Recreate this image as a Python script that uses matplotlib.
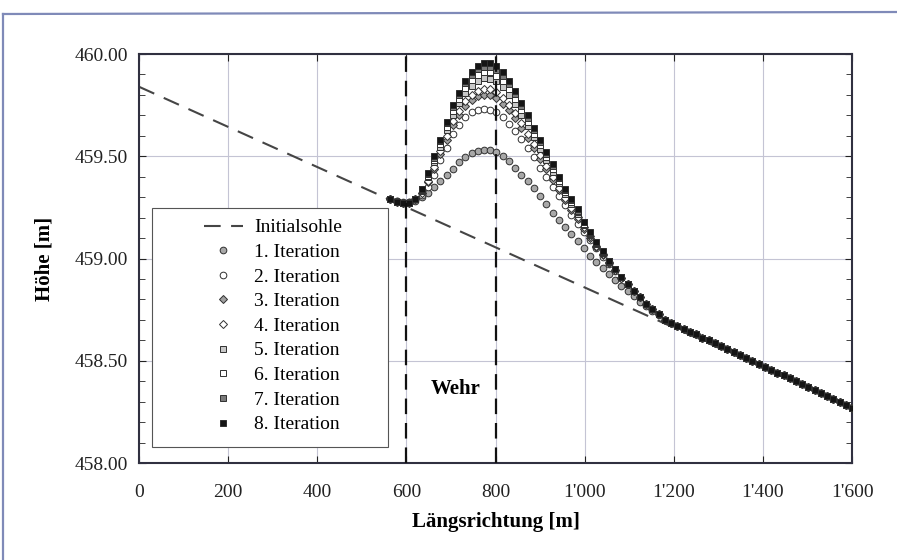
import numpy as np
import matplotlib
matplotlib.use("Agg")
import matplotlib.pyplot as plt
from matplotlib.ticker import FuncFormatter, MultipleLocator
from matplotlib.lines import Line2D
from matplotlib.patches import Rectangle

plt.rcParams['font.family'] = ['Liberation Serif', 'DejaVu Serif']

# stations [m]
x_st = [564, 578, 592, 606, 620, 634, 648, 662, 676, 690, 704, 718, 732, 746, 760,
        774, 788, 802, 816, 830, 844, 858, 872, 886, 900, 914, 928, 942, 956, 970,
        984, 998, 1012, 1026, 1040, 1054, 1068, 1082, 1096, 1110, 1124, 1138, 1152, 1166,
        1180, 1194, 1208, 1222, 1236, 1250, 1264, 1278, 1292, 1306, 1320, 1334, 1348,
        1362, 1376, 1390, 1404, 1418, 1432, 1446, 1460, 1474, 1488, 1502, 1516, 1530,
        1544, 1558, 1572, 1586, 1600]

# downstream part, the same for all iterations
tail = [458.700, 458.686, 458.671, 458.657, 458.643, 458.629, 458.614, 458.600, 458.586,
        458.571, 458.557, 458.543, 458.529, 458.514, 458.500, 458.486, 458.471, 458.457,
        458.443, 458.429, 458.414, 458.400, 458.386, 458.371, 458.357, 458.343, 458.329,
        458.314, 458.300, 458.286, 458.271]

it1 = [459.29, 459.28, 459.275, 459.275, 459.28, 459.30, 459.32, 459.35, 459.38, 459.41,
       459.44, 459.47, 459.495, 459.515, 459.527, 459.532, 459.53, 459.52, 459.50, 459.475,
       459.445, 459.41, 459.38, 459.345, 459.305, 459.265, 459.225, 459.19, 459.155, 459.12,
       459.085, 459.05, 459.015, 458.985, 458.955, 458.925, 458.895, 458.865, 458.84, 458.815,
       458.79, 458.77, 458.745, 458.725]
it2 = [459.29, 459.28, 459.27, 459.275, 459.29, 459.31, 459.35, 459.41, 459.48, 459.54,
       459.61, 459.655, 459.69, 459.715, 459.728, 459.732, 459.728, 459.715, 459.69, 459.66,
       459.625, 459.585, 459.54, 459.495, 459.445, 459.40, 459.35, 459.305, 459.26, 459.215,
       459.17, 459.13, 459.09, 459.05, 459.01, 458.975, 458.94, 458.905, 458.875, 458.84,
       458.81, 458.78, 458.755, 458.73]
it3 = [459.29, 459.278, 459.27, 459.273, 459.29, 459.319, 459.372, 459.438, 459.511, 459.580,
       459.653, 459.703, 459.746, 459.775, 459.794, 459.801, 459.798, 459.785, 459.758, 459.725,
       459.685, 459.639, 459.590, 459.540, 459.487, 459.437, 459.384, 459.334, 459.285, 459.238,
       459.192, 459.146, 459.102, 459.059, 459.018, 458.980, 458.943, 458.907, 458.875, 458.84,
       458.81, 458.78, 458.755, 458.73]
it4 = [459.29, 459.278, 459.27, 459.273, 459.29, 459.323, 459.381, 459.450, 459.524, 459.597,
       459.672, 459.723, 459.769, 459.801, 459.821, 459.830, 459.828, 459.814, 459.787, 459.752,
       459.711, 459.662, 459.610, 459.559, 459.504, 459.453, 459.398, 459.347, 459.295, 459.248,
       459.201, 459.152, 459.108, 459.063, 459.021, 458.982, 458.944, 458.907, 458.875, 458.84,
       458.81, 458.78, 458.755, 458.73]
it5 = [459.29, 459.277, 459.27, 459.272, 459.29, 459.330, 459.397, 459.470, 459.547, 459.627,
       459.704, 459.759, 459.811, 459.846, 459.870, 459.881, 459.880, 459.866, 459.837, 459.801,
       459.756, 459.702, 459.647, 459.592, 459.535, 459.480, 459.424, 459.369, 459.314, 459.265,
       459.217, 459.164, 459.117, 459.070, 459.027, 458.985, 458.947, 458.908, 458.875, 458.84,
       458.81, 458.78, 458.755, 458.73]
it6 = [459.29, 459.276, 459.27, 459.271, 459.29, 459.334, 459.406, 459.482, 459.560, 459.644,
       459.722, 459.779, 459.834, 459.871, 459.898, 459.910, 459.910, 459.895, 459.866, 459.828,
       459.781, 459.725, 459.668, 459.611, 459.553, 459.496, 459.438, 459.381, 459.324, 459.275,
       459.226, 459.170, 459.122, 459.074, 459.030, 458.987, 458.948, 458.909, 458.875, 458.84,
       458.81, 458.78, 458.755, 458.73]
it7 = [459.29, 459.275, 459.27, 459.270, 459.29, 459.338, 459.415, 459.494, 459.573, 459.661,
       459.740, 459.799, 459.857, 459.896, 459.925, 459.939, 459.939, 459.924, 459.895, 459.855,
       459.806, 459.748, 459.689, 459.630, 459.571, 459.512, 459.452, 459.393, 459.334, 459.285,
       459.235, 459.177, 459.127, 459.078, 459.033, 458.989, 458.949, 458.910, 458.875, 458.84,
       458.81, 458.78, 458.755, 458.73]
it8 = [459.29, 459.275, 459.27, 459.27, 459.29, 459.34, 459.42, 459.50, 459.58, 459.67,
       459.75, 459.81, 459.87, 459.91, 459.94, 459.955, 459.955, 459.94, 459.91, 459.87,
       459.82, 459.76, 459.70, 459.64, 459.58, 459.52, 459.46, 459.40, 459.34, 459.29,
       459.24, 459.18, 459.13, 459.08, 459.035, 458.99, 458.95, 458.91, 458.875, 458.84,
       458.81, 458.78, 458.755, 458.73]

# initial bed
x_init = [0, 1600]
y_init = [459.84, 458.27]
x_wehr = [600, 800]

labels = ['1. Iteration', '2. Iteration', '3. Iteration', '4. Iteration',
          '5. Iteration', '6. Iteration', '7. Iteration', '8. Iteration']
markers = ['o', 'o', 'D', 'D', 's', 's', 's', 's']
faces = ['#a8a8a8', 'white', '#a0a0a0', 'white', '#c8c8c8', 'white', '#7a7a7a', '#151515']
sizes = [4.8, 4.8, 3.6, 3.6, 4.3, 4.3, 4.3, 4.6]

fig = plt.figure(figsize=(8.97, 5.6), dpi=100)
ax = fig.add_axes([0.155, 0.173, 0.795, 0.7305])

ax.plot(x_init, y_init, color='#454545', lw=1.5, dashes=(8, 5), label='Initialsohle', zorder=2)

for i, y in enumerate([it1, it2, it3, it4, it5, it6, it7, it8]):
    ax.plot(x_st, y + tail, ls='none', marker=markers[i], ms=sizes[i],
            mfc=faces[i], mec='#303030', mew=0.7, label=labels[i], zorder=3 + i)

for xw in x_wehr:
    ax.axvline(xw, color='#111111', lw=1.6, dashes=(7, 4), zorder=12)

ax.text(710, 458.36, 'Wehr', fontsize=15, fontweight='bold', ha='center', va='center')

ax.set_xlim(0, 1600)
ax.set_ylim(458.0, 460.0)
ax.xaxis.set_major_locator(MultipleLocator(200))
ax.yaxis.set_major_locator(MultipleLocator(0.5))
ax.yaxis.set_minor_locator(MultipleLocator(0.1))
ax.xaxis.set_major_formatter(FuncFormatter(lambda v, p: '{:,.0f}'.format(v).replace(',', "'")))
ax.yaxis.set_major_formatter(FuncFormatter(lambda v, p: '%.2f' % v))
ax.tick_params(axis='both', which='both', direction='in', top=True, right=True,
               labelsize=14, colors='#222222')
ax.tick_params(axis='x', pad=15)
ax.tick_params(axis='y', pad=8)
ax.tick_params(which='major', length=5)
ax.tick_params(which='minor', length=4)
ax.grid(True, which='major', color='#c4c4d4', lw=0.8)
ax.set_axisbelow(True)
for s in ax.spines.values():
    s.set_color('#303040')
    s.set_linewidth(1.5)

ax.set_xlabel('Längsrichtung [m]', fontsize=15, fontweight='bold', labelpad=8)
ax.set_ylabel('Höhe [m]', fontsize=15, fontweight='bold', labelpad=14)

# legend box like the spreadsheet one
ax.add_patch(Rectangle((0.018, 0.039), 0.331, 0.584, transform=ax.transAxes,
                       facecolor='white', edgecolor='#555555', lw=0.8, zorder=19))
leg = ax.legend(loc='center', bbox_to_anchor=(0.188, 0.335), fontsize=14,
                frameon=False, labelspacing=0.36, handlelength=2.0,
                borderpad=0.2, handletextpad=0.6)
leg.set_zorder(20)

# scanned page frame
fig.add_artist(Line2D([3 / 897, 3 / 897], [0, 1 - 14 / 560], color='#7f8ab8', lw=1.6))
fig.add_artist(Line2D([3 / 897, 1], [1 - 14 / 560, 1 - 12 / 560], color='#7f8ab8', lw=1.6))

fig.savefig('out.png', dpi=100)
